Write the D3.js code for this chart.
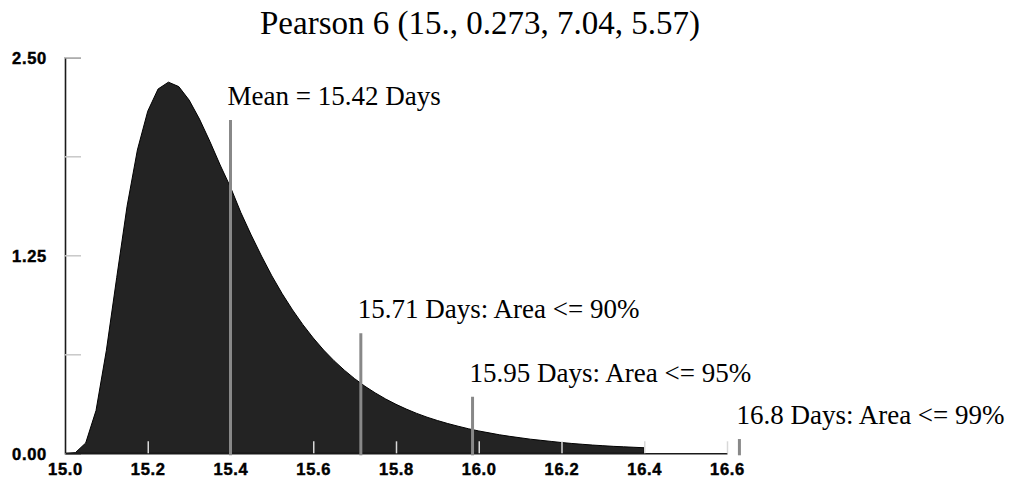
<!DOCTYPE html>
<html>
<head>
<meta charset="utf-8">
<script src="https://cdn.jsdelivr.net/npm/d3@7"></script>
<style>
  html, body { margin: 0; padding: 0; background: #fff; }
  svg { display: block; }
</style>
</head>
<body>
<svg id="chart" width="1009" height="489"></svg>
<script>
// ---- data ----
const title = "Pearson 6 (15., 0.273, 7.04, 5.57)";

const xValues = [
  15.000, 15.025, 15.050, 15.075, 15.100, 15.125, 15.150, 15.175, 15.200, 15.225,
  15.250, 15.275, 15.300, 15.325, 15.350, 15.375, 15.400, 15.425, 15.450, 15.475,
  15.500, 15.525, 15.550, 15.575, 15.600, 15.625, 15.650, 15.675, 15.700, 15.725,
  15.750, 15.775, 15.800, 15.825, 15.850, 15.875, 15.900, 15.925, 15.950, 15.975,
  16.000, 16.025, 16.050, 16.075, 16.100, 16.125, 16.150, 16.175, 16.200, 16.225,
  16.250, 16.275, 16.300, 16.325, 16.350, 16.375, 16.400
];
const density = [
  0.000, 0.004, 0.065, 0.270, 0.650, 1.110, 1.560, 1.915, 2.160, 2.300,
  2.343, 2.315, 2.230, 2.110, 1.970, 1.820, 1.680, 1.520, 1.378, 1.245,
  1.120, 1.007, 0.905, 0.812, 0.728, 0.652, 0.585, 0.525, 0.471, 0.423,
  0.381, 0.343, 0.309, 0.279, 0.252, 0.228, 0.207, 0.188, 0.171, 0.155,
  0.141, 0.129, 0.117, 0.107, 0.098, 0.089, 0.082, 0.075, 0.068, 0.062,
  0.057, 0.052, 0.048, 0.044, 0.041, 0.038, 0.035
];

const xTicks = [15.0, 15.2, 15.4, 15.6, 15.8, 16.0, 16.2, 16.4, 16.6];
const xTickLabels = ["15.0", "15.2", "15.4", "15.6", "15.8", "16.0", "16.2", "16.4", "16.6"];
const yTicks = [0, 0.625, 1.25, 1.875, 2.5];
const yTickLabels = ["0.00", "", "1.25", "", "2.50"];

// marker lines: position on x axis (as drawn), top of line (y units), label
const markerPos = [15.40, 15.715, 15.985, 16.63];
const markerTop = [2.104, 0.758, 0.357, 0.090];
const markerLabels = [
  "Mean = 15.42 Days",
  "15.71 Days: Area <= 90%",
  "15.95 Days: Area <= 95%",
  "16.8 Days: Area <= 99%"
];

// ---- drawing ----
const svg = d3.select("#chart");
const x = d3.scaleLinear().domain([15.0, 16.6]).range([65, 727]);
const y = d3.scaleLinear().domain([0, 2.5]).range([453.3, 57.3]);

svg.append("rect").attr("width", 1009).attr("height", 489).attr("fill", "#fff");

// title
svg.append("text")
  .attr("x", 480).attr("y", 33.5)
  .attr("text-anchor", "middle")
  .style("font-family", "'Liberation Serif', 'Times New Roman', serif")
  .style("font-size", "33px")
  .attr("fill", "#000")
  .text(title);

// area
const pts = xValues.map((v, i) => [v, density[i]]);
const area = d3.area()
  .x(d => x(d[0]))
  .y0(y(0))
  .y1(d => y(d[1]))
  .curve(d3.curveLinear);
svg.append("path")
  .datum(pts)
  .attr("d", area)
  .attr("fill", "#232323")
  .attr("stroke", "#000")
  .attr("stroke-width", 1);

const tickFont = "'Liberation Sans', Arial, sans-serif";

function styleTickText(sel) {
  sel.style("font-family", tickFont)
    .style("font-weight", "bold")
    .style("font-size", "16.5px")
    .style("letter-spacing", "0.7px")
    .attr("fill", "#000")
    .attr("stroke", "#000")
    .attr("stroke-width", 0.45);
}

// y axis
const gy = svg.append("g")
  .attr("transform", `translate(${x(15.0)},0)`)
  .call(d3.axisRight(y).tickValues(yTicks).tickSize(16)
    .tickFormat((d, i) => yTickLabels[i]));
gy.select(".domain").attr("stroke", "#1a1a1a").attr("stroke-width", 1.6);
gy.selectAll(".tick line").attr("stroke", "#c8c8c8").attr("stroke-width", 1.5);
gy.selectAll(".tick text")
  .attr("x", -18).attr("dy", "0.38em")
  .attr("text-anchor", "end")
  .call(styleTickText);

// x axis
const gx = svg.append("g")
  .attr("transform", `translate(0,${y(0)})`)
  .call(d3.axisBottom(x).tickValues(xTicks).tickSizeInner(-12).tickSizeOuter(0)
    .tickFormat((d, i) => xTickLabels[i]));
gx.select(".domain").attr("stroke", "#1a1a1a").attr("stroke-width", 1.6);
gx.selectAll(".tick line").attr("stroke", "#d8d8d8").attr("stroke-width", 1.5);
gx.selectAll(".tick").filter(d => d === 15.0).select("line").remove();
gx.selectAll(".tick text")
  .attr("y", 10).attr("dy", "0.71em")
  .call(styleTickText);

// marker lines and labels
const mk = svg.append("g");
markerPos.forEach((p, i) => {
  mk.append("line")
    .attr("x1", x(p)).attr("x2", x(p))
    .attr("y1", y(markerTop[i])).attr("y2", y(0) + 2)
    .attr("stroke", "#888")
    .attr("stroke-width", 3);
  mk.append("text")
    .attr("x", x(p) - 3)
    .attr("y", y(markerTop[i]) - 15)
    .style("font-family", "'Liberation Serif', 'Times New Roman', serif")
    .style("font-size", "27px")
    .attr("fill", "#000")
    .text(markerLabels[i]);
});
</script>
</body>
</html>
